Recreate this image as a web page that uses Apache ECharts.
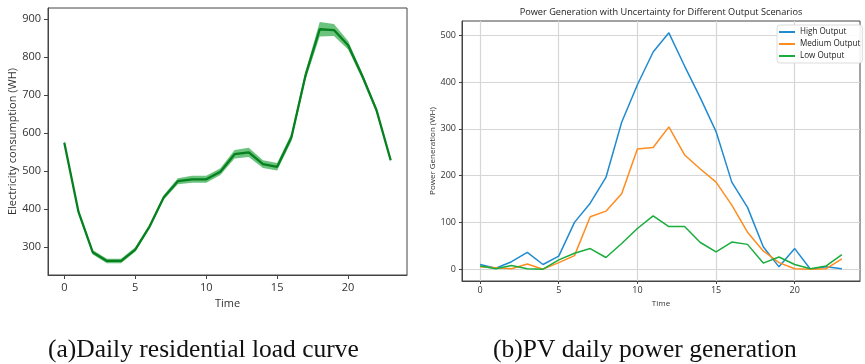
<!DOCTYPE html>
<html>
<head>
<meta charset="utf-8">
<script src="https://cdn.jsdelivr.net/npm/echarts@6/dist/echarts.min.js"></script>
<style>
html,body{margin:0;padding:0;background:#fff;}
#chart{width:865px;height:364px;}
</style>
</head>
<body>
<div id="chart"></div>
<script>
// ---------- data ----------
const hours = [0,1,2,3,4,5,6,7,8,9,10,11,12,13,14,15,16,17,18,19,20,21,22,23];
const loadMean  = [574,392,286,263,263,293,353,430,473,478,478,498,544,549,518,511,588,752,873,871,831,750,660,528];
const loadLower = [567,386,280,257,257,287,347,424,465,469,469,489,533,537,508,501,578,741,854,855,820,742,653,524];
const loadUpper = [581,398,292,269,269,299,359,436,481,487,487,507,555,561,528,521,598,763,892,887,842,758,667,532];

const highOutput   = [10,2,16,36,10,28,100,141,196,314,394,464,505,434,366,294,186,132,48,5,44,0,5,1];
const mediumOutput = [5,3,1,11,0,14,29,112,124,161,257,260,304,244,214,186,137,79,39,14,1,0,1,22];
const lowOutput    = [7,1,8,1,0,20,34,44,25,55,87,114,91,91,57,37,58,53,13,26,10,1,7,31];

const xTicks = [0,5,10,15,20];
const loadTicks = [300,400,500,600,700,800,900];
const pvTicks = [0,100,200,300,400,500];

const captionA = '(a)Daily residential load curve';
const captionB = '(b)PV daily power generation';
const pvTitle = 'Power Generation with Uncertainty for Different Output Scenarios';

// ---------- chart ----------
const chart = echarts.init(document.getElementById('chart'), null, {renderer:'canvas'});
const font = 'Open Sans';
const pair = arr => hours.map((h,i) => [h, arr[i]]);

const option = {
  animation: false,
  backgroundColor: '#fff',
  textStyle: {fontFamily: font},
  title: [{
    text: pvTitle,
    left: 661, top: 8, textAlign: 'center', padding: 0,
    textStyle: {fontFamily: font, fontSize: 9.2, fontWeight: 'normal', color: '#222'}
  }],
  legend: {
    data: ['High Output','Medium Output','Low Output'],
    orient: 'vertical',
    left: 777, top: 25,
    icon: 'rect', itemWidth: 16, itemHeight: 2, itemGap: 0,
    padding: [1, 2, 1, 2],
    backgroundColor: 'rgba(255,255,255,0.9)',
    borderColor: '#dcdcdc', borderWidth: 1, borderRadius: 3,
    textStyle: {fontFamily: font, fontSize: 8.1, color: '#222', lineHeight: 12}
  },
  grid: [
    {left: 48, top: 8, width: 359, height: 267, show: true, borderColor: '#444', borderWidth: 1, containLabel: false},
    {left: 462, top: 21, width: 398, height: 260, show: true, borderColor: '#444', borderWidth: 1, containLabel: false}
  ],
  xAxis: [
    {type: 'value', gridIndex: 0, min: -1.15, max: 24.15,
     name: 'Time', nameLocation: 'middle', nameGap: 20,
     nameTextStyle: {fontFamily: font, fontSize: 11, color: '#333'},
     axisLine: {show: true, onZero: false, lineStyle: {color: '#444'}},
     axisTick: {show: true, inside: false, length: 4, customValues: xTicks, lineStyle: {color: '#444'}},
     axisLabel: {customValues: xTicks, margin: 7, fontFamily: font, fontSize: 11, color: '#333'},
     splitLine: {show: false}},
    {type: 'value', gridIndex: 1, min: -1.15, max: 24.15,
     name: 'Time', nameLocation: 'middle', nameGap: 15,
     nameTextStyle: {fontFamily: font, fontSize: 8, color: '#333'},
     axisLine: {show: true, onZero: false, lineStyle: {color: '#444'}},
     axisTick: {show: true, inside: false, length: 3, customValues: xTicks, lineStyle: {color: '#444'}},
     axisLabel: {customValues: xTicks, margin: 5, fontFamily: font, fontSize: 9, color: '#333'},
     splitLine: {show: true, lineStyle: {color: '#d6d6d6', width: 1.2}}}
  ],
  yAxis: [
    {type: 'value', gridIndex: 0, min: 226, max: 929,
     name: 'Electricity consumption (WH)', nameLocation: 'middle', nameGap: 30,
     nameTextStyle: {fontFamily: font, fontSize: 11, color: '#333'},
     axisLine: {show: true, onZero: false, lineStyle: {color: '#444'}},
     axisTick: {show: true, inside: false, length: 4, customValues: loadTicks, lineStyle: {color: '#444'}},
     axisLabel: {customValues: loadTicks, margin: 7, fontFamily: font, fontSize: 11, color: '#333'},
     splitLine: {show: false}},
    {type: 'value', gridIndex: 1, min: -25.25, max: 530.25,
     name: 'Power Generation (WH)', nameLocation: 'middle', nameGap: 22,
     nameTextStyle: {fontFamily: font, fontSize: 8, color: '#333'},
     axisLine: {show: true, onZero: false, lineStyle: {color: '#444'}},
     axisTick: {show: true, inside: false, length: 3, customValues: pvTicks, lineStyle: {color: '#444'}},
     axisLabel: {customValues: pvTicks, margin: 6, fontFamily: font, fontSize: 9, color: '#333'},
     splitLine: {show: true, lineStyle: {color: '#d6d6d6', width: 1.2}}}
  ],
  series: [
    {
      type: 'custom', xAxisIndex: 0, yAxisIndex: 0, z: 1, silent: true,
      data: [[0, loadMean[0]]],
      renderItem: function (params, api) {
        const pts = [];
        for (let i = 0; i < hours.length; i++) pts.push(api.coord([hours[i], loadUpper[i]]));
        for (let i = hours.length - 1; i >= 0; i--) pts.push(api.coord([hours[i], loadLower[i]]));
        return {type: 'polygon', shape: {points: pts}, style: {fill: 'rgba(44,170,70,0.7)'}};
      }
    },
    {
      type: 'line', xAxisIndex: 0, yAxisIndex: 0, z: 3,
      data: pair(loadMean), showSymbol: false, symbol: 'none',
      lineStyle: {color: '#07801f', width: 2.3}
    },
    {
      name: 'High Output', type: 'line', xAxisIndex: 1, yAxisIndex: 1,
      data: pair(highOutput), showSymbol: false, symbol: 'none',
      itemStyle: {color: '#1f8bd0'}, lineStyle: {color: '#1f8bd0', width: 1.5}
    },
    {
      name: 'Medium Output', type: 'line', xAxisIndex: 1, yAxisIndex: 1,
      data: pair(mediumOutput), showSymbol: false, symbol: 'none',
      itemStyle: {color: '#ff8c1f'}, lineStyle: {color: '#ff8c1f', width: 1.5}
    },
    {
      name: 'Low Output', type: 'line', xAxisIndex: 1, yAxisIndex: 1,
      data: pair(lowOutput), showSymbol: false, symbol: 'none',
      itemStyle: {color: '#18ad3c'}, lineStyle: {color: '#18ad3c', width: 1.5}
    }
  ],
  graphic: [
    {type: 'text', left: 48, top: 337,
     style: {text: captionA, fontFamily: 'Liberation Serif', fontSize: 25.5, fill: '#111'}},
    {type: 'text', left: 493, top: 337,
     style: {text: captionB, fontFamily: 'Liberation Serif', fontSize: 25.5, fill: '#111'}}
  ]
};
chart.setOption(option);
</script>
</body>
</html>
